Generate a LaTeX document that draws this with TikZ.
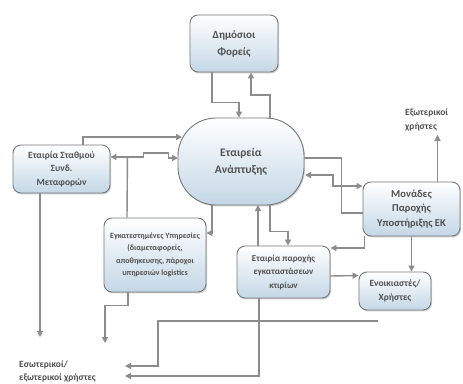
\documentclass[tikz,border=0pt]{standalone}
\usepackage{fontspec}
\setmainfont{Carlito}
\usetikzlibrary{arrows.meta,calc,shadows}
\definecolor{boxbot}{RGB}{196,215,230}
\definecolor{edge}{RGB}{120,120,120}
\definecolor{txt}{RGB}{80,80,80}
\definecolor{ln}{RGB}{140,140,140}
\tikzset{
 box/.style={draw=edge, line width=0.9pt, rounded corners=8pt, top color=white, bottom color=boxbot, text=txt, align=center, inner sep=2pt, drop shadow={shadow xshift=1pt, shadow yshift=-1.4pt, opacity=0.4}},
 conn/.style={draw=ln, line width=1.4pt},
 arr/.style={conn, -{Triangle[length=6pt,width=6pt]}},
 arrb/.style={conn, {Triangle[length=6pt,width=6pt]}-{Triangle[length=6pt,width=6pt]}},
 lbl/.style={text=txt, align=left, inner sep=0pt}
}
\newcommand{\fs}[2]{\fontsize{#1}{#2}\selectfont\bfseries}
\begin{document}
\begin{tikzpicture}[x=1pt,y=-1pt]
\useasboundingbox (0,0) rectangle (463,383);
\node[box, minimum width=88pt, minimum height=57pt, font=\fs{11}{17}] (dim) at (234,43.5) {Δημόσιοι\\Φορείς};
\node[box, rounded corners=38pt, minimum width=126pt, minimum height=87pt, font=\fs{11.5}{17}] (dev) at (241,161.5) {Εταιρεία\\Ανάπτυξης};
\node[box, minimum width=97pt, minimum height=48pt, font=\fs{9.5}{13.5}] (stath) at (61.5,169) {Εταιρία Σταθμού\\Συνδ.\\Μεταφορών};
\node[box, minimum width=102pt, minimum height=74pt, font=\fs{8}{12.5}] (egk) at (155,255) {Εγκατεστημένες Υπηρεσίες\\(διαμεταφορείς,\\αποθηκευσης, πάροχοι\\υπηρεσιών logistics};
\node[box, minimum width=93pt, minimum height=52pt, font=\fs{9}{13.5}] (paroch) at (283.5,272) {Εταιρία παροχής\\εγκαταστάσεων\\κτιρίων};
\node[box, minimum width=97pt, minimum height=54pt, font=\fs{10.5}{14.5}] (mon) at (411.5,209) {Μονάδες\\Παροχής\\Υποστήριξης ΕΚ};
\node[box, minimum width=72pt, minimum height=38pt, font=\fs{9.5}{14}] (enoik) at (395,291) {Ενοικιαστές/\\Χρήστες};
\node[lbl, anchor=north west, font=\fs{9.5}{14}] (ext) at (405,109) {Εξωτερικοί\\χρήστες};
\node[lbl, anchor=north west, font=\fs{9.5}{13}] (int) at (19,361) {Εσωτερικοί/\\εξωτερικοί χρήστες};
\coordinate (e1) at (105,343);
\coordinate (e2) at (40,337);
\coordinate (t1) at (125,366);
\coordinate (t2) at (125,376);
\coordinate (f1) at (378,321);
\coordinate (m1) at ($(mon.north)+(26,0)$);
% connectors
\draw[arr] ($(dim.south)+(-22,0)$) -- ++(0,30) -| ($(dev.north)+(-2,0)$);
\draw[arr] ($(dev.center)+(29,-42.5)$) -- ++(0,-24) -| ($(dim.south)+(17,0)$);
\draw[arr] ($(stath.north)+(21.5,0)$) |- ($(dev.center)+(-59,-24.5)$);
\draw[arrb] ($(stath.east)+(0,-12)$) -- ++(33,0) -- ++(0,-4) -- ++(25,0) -- ++(0,5) -- ($(dev.center)+(-63,-3.5)$);
\draw[conn] ($(stath.east)+(17,-12)$) -- ($(egk.north)+(-28,0)$);
\draw[arr] ($(dev.center)+(-29,43)$) |- ($(egk.east)+(0,-22)$);
\draw[arr] ($(egk.south)+(-27,0)$) -- ++(0,13) -| (e1);
\draw[arr] (stath.south -| e2) -- (e2);
\draw[arr] ($(paroch.north)+(-25.5,0)$) -- ($(dev.center)+(17,43.5)$);
\draw[arr] ($(dev.center)+(29,43)$) -- ++(0,27) -| ($(paroch.north)+(4.5,0)$);
\draw[conn] ($(dev.center)+(63,-3.5)$) -| ($(mon.west)+(-21,4)$) -- ($(mon.west)+(0,4)$);
\draw[arrb] ($(dev.center)+(64,13.5)$) -- ++(28,0) |- ($(mon.west)+(0,-23)$);
\draw[arr] ($(mon.south west)+(2,0)$) |- ($(paroch.east)+(0,-24)$);
\draw[arr] (mon.south) -- (mon.south |- enoik.north);
\draw[arr] ($(paroch.east)+(0,4)$) -- ($(enoik.north west)+(0,4)$);
\draw[arr] (m1) -- ($(m1 |- ext.south)+(0,3)$);
\draw[arr] ($(paroch.south)+(-24.5,0)$) |- (t2);
\draw[arr] (f1) -| ($(t1)+(33,0)$) -- (t1);
\end{tikzpicture}
\end{document}
